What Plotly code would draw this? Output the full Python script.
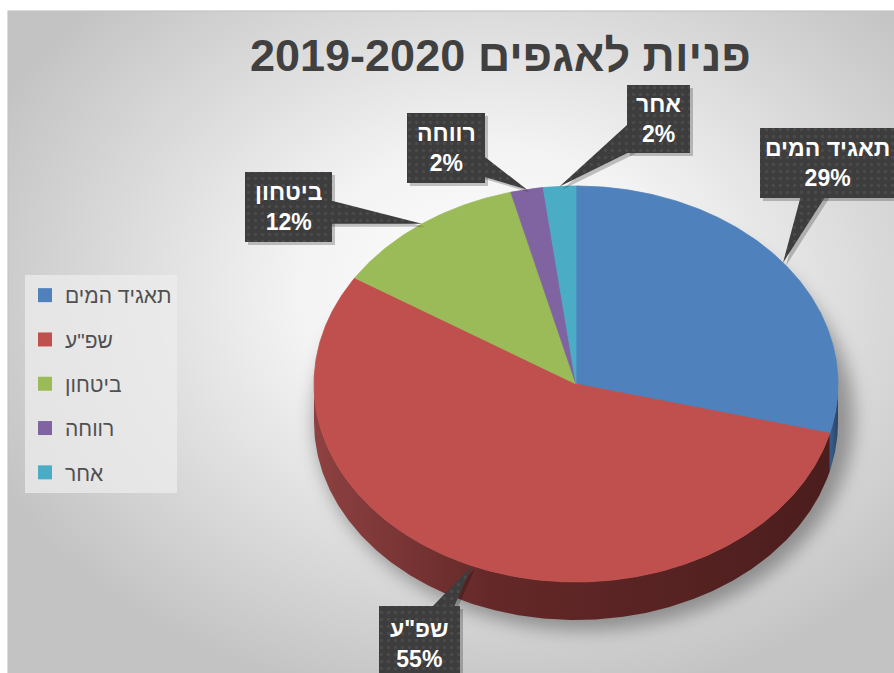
import base64
import numpy as np
import plotly.graph_objects as go

# ---- data -------------------------------------------------------------
departments = ["תאגיד המים", "שפ\"ע", "ביטחון", "רווחה", "אחר"]
shares = [29, 55, 12, 2, 2]
top_colors = ["#4f81bd", "#c0504d", "#9bbb59", "#8064a2", "#4bacc6"]
side_scales = [
    [[0, "#3a5f8c"], [1, "#2a4466"]],
    [[0, "#8e4141"], [0.35, "#642828"], [1, "#4b1d1d"]],
    [[0, "#6e8a3c"], [1, "#4f632b"]],
    [[0, "#5c4878"], [1, "#433457"]],
    [[0, "#347d90"], [1, "#265c6a"]],
]

# ---- layout constants (pixel space) ------------------------------------
W, H = 894, 673
CX, CY, RX, RY, DEPTH = 576, 384, 262, 198, 38

# callout boxes: left, top, right, bottom
boxes = [
    (760, 128, 908, 198),
    (379, 606, 460, 682),
    (245, 172, 332, 242),
    (407, 113, 485, 183),
    (627, 85, 690, 153),
]

PATTERN = dict(shape=".", fgcolor="#585858", bgcolor="#3d3d3d", size=7, solidity=0.18)


def rim(theta_deg, dy=0.0):
    t = np.radians(theta_deg)
    return CX + RX * np.sin(t), CY - RY * np.cos(t) + dy


def patch(xs, ys, **kw):
    fig.add_trace(go.Scatter(x=xs, y=ys, mode="lines", fill="toself",
                             line=dict(width=0), hoverinfo="skip",
                             showlegend=False, **kw))


total = float(sum(shares))
edges = np.concatenate([[0.0], np.cumsum(shares) / total * 360.0])

fig = go.Figure()

# side walls (front half of the disc only)
for i, col in enumerate(top_colors):
    a, b = max(edges[i], 90.0), min(edges[i + 1], 270.0)
    if b <= a:
        continue
    th = np.linspace(a, b, max(int((b - a) * 2), 2))
    xt, yt = rim(th)
    xb, yb = rim(th[::-1], DEPTH)
    patch(np.concatenate([xt, xb, xt[:1]]), np.concatenate([yt, yb, yt[:1]]),
          fillgradient=dict(type="horizontal", colorscale=side_scales[i]))

# top surfaces
for i, col in enumerate(top_colors):
    a, b = edges[i], edges[i + 1]
    th = np.linspace(a, b, max(int((b - a) * 2), 2))
    xs, ys = rim(th)
    fig.add_trace(go.Scatter(
        x=np.concatenate([[CX], xs, [CX]]), y=np.concatenate([[CY], ys, [CY]]),
        mode="lines", fill="toself", fillcolor=col, line=dict(width=0.8, color=col),
        hoverinfo="skip", showlegend=False))

# data callouts: drop shadow, pointer wedge, box, text
for i, (l, t, r, btm) in enumerate(boxes):
    mid = (edges[i] + edges[i + 1]) / 2
    tx, ty = rim(mid)
    bx, by = (l + min(r, W)) / 2, (t + btm) / 2
    d = np.array([tx - bx, ty - by])
    n = np.array([-d[1], d[0]]) / np.hypot(*d) * 17
    wx = [bx + n[0], tx, bx - n[0], bx + n[0]]
    wy = [by + n[1], ty, by - n[1], by + n[1]]
    rx_ = [l, r, r, l, l]
    ry_ = [t, t, btm, btm, t]
    for px, py in ((wx, wy), (rx_, ry_)):
        patch([v + 3 for v in px], [v + 3 for v in py], fillcolor="rgba(0,0,0,0.22)")
    patch(wx, wy, fillcolor="#3d3d3d", fillpattern=PATTERN)
    patch(rx_, ry_, fillcolor="#3d3d3d", fillpattern=PATTERN)
    fig.add_annotation(
        x=bx, y=by, xref="x", yref="y", showarrow=False,
        text=f"<b>{departments[i]}<br>{shares[i]}%</b>",
        font=dict(family="Liberation Sans, Arial", size=23, color="white"),
        align="center")

# legend entries
for name, col in zip(departments, top_colors):
    fig.add_trace(go.Scatter(
        x=[None], y=[None], mode="markers", name=name, legendgroup=name,
        marker=dict(symbol="square", size=14, color=col)))

fig.add_annotation(
    x=500, y=55, xref="x", yref="y", showarrow=False,
    text="<b>פניות לאגפים 2019-2020</b>",
    font=dict(family="Liberation Sans, Arial", size=45, color="#404040"))

# background panel and soft shadow under the disc
svg = f"""<svg xmlns='http://www.w3.org/2000/svg' width='{W}' height='{H}' viewBox='0 0 {W} {H}'>
<defs>
<radialGradient id='g' cx='0.54' cy='0.42' r='0.62'>
<stop offset='0' stop-color='#ffffff'/>
<stop offset='0.35' stop-color='#f3f3f3'/>
<stop offset='1' stop-color='#c3c3c3'/>
</radialGradient>
<filter id='b' x='-20%' y='-20%' width='140%' height='140%'><feGaussianBlur stdDeviation='9'/></filter>
</defs>
<rect x='8' y='11' width='{W}' height='{H}' fill='url(#g)' stroke='#c3c3c3' stroke-width='1.2'/>
<ellipse cx='{CX + 8}' cy='{CY + DEPTH - 4}' rx='{RX + 8}' ry='{RY + 14}' fill='rgba(0,0,0,0.33)' filter='url(#b)'/>
</svg>"""
bg_uri = "data:image/svg+xml;base64," + base64.b64encode(svg.encode()).decode()

fig.update_layout(
    width=W, height=H, autosize=False,
    margin=dict(l=0, r=0, t=0, b=0, pad=0),
    paper_bgcolor="white", plot_bgcolor="rgba(0,0,0,0)",
    xaxis=dict(range=[0, W], visible=False, fixedrange=True),
    yaxis=dict(range=[H, 0], visible=False, fixedrange=True),
    images=[dict(source=bg_uri, xref="paper", yref="paper", x=0, y=1,
                 sizex=1, sizey=1, sizing="stretch", layer="below",
                 xanchor="left", yanchor="top")],
    legend=dict(x=25 / W, y=1 - 275 / H, xanchor="left", yanchor="top",
                bgcolor="rgba(236,236,236,0.75)", traceorder="grouped",
                itemwidth=30, tracegroupgap=14,
                font=dict(family="Liberation Sans, Arial", size=21, color="#505050")),
    showlegend=True,
)

fig.write_html("out.html")
